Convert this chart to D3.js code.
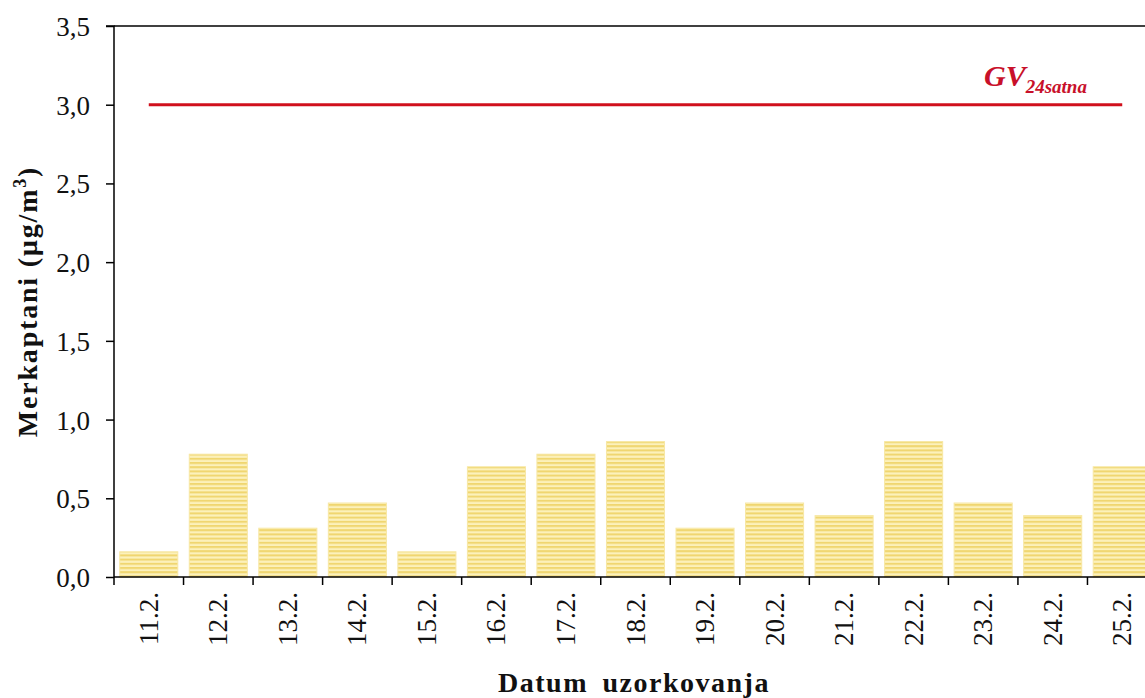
<!DOCTYPE html>
<html>
<head>
<meta charset="utf-8">
<script src="https://cdn.jsdelivr.net/npm/d3@7"></script>
<style>
  html, body { margin: 0; padding: 0; background: #fff; overflow: hidden; }
  svg { display: block; }
  text { font-family: "Liberation Serif", "Times New Roman", serif; }
</style>
</head>
<body>
<svg id="chart" width="1145" height="698"></svg>
<script>
const categories = ["11.2.", "12.2.", "13.2.", "14.2.", "15.2.", "16.2.", "17.2.", "18.2.", "19.2.", "20.2.", "21.2.", "22.2.", "23.2.", "24.2.", "25.2."];
const values = [0.16, 0.78, 0.31, 0.47, 0.16, 0.70, 0.78, 0.86, 0.31, 0.47, 0.39, 0.86, 0.47, 0.39, 0.70];
const yTicks = [0, 0.5, 1.0, 1.5, 2.0, 2.5, 3.0, 3.5];
const limitValue = 3.0;
const yTitle = "Merkaptani (µg/m";
const xTitle = "Datum uzorkovanja";

const svg = d3.select("#chart");
const mLeft = 114, mRight = 1157, mTop = 26, mBottom = 577;

const x = d3.scaleBand().domain(categories).range([mLeft, mRight]).paddingInner(0.165).paddingOuter(0.0825);
const xb = d3.scaleBand().domain(categories).range([mLeft, mRight]);
const y = d3.scaleLinear().domain([0, 3.5]).range([mBottom, mTop]);

// pattern
const defs = svg.append("defs");
const pat = defs.append("pattern").attr("id", "stripes").attr("patternUnits", "userSpaceOnUse")
  .attr("width", 8).attr("height", 4.2);
pat.append("rect").attr("width", 8).attr("height", 4.2).attr("fill", "#fcf1bb");
pat.append("rect").attr("y", 0).attr("width", 8).attr("height", 2).attr("fill", "#f0d670");

// top frame line
svg.append("line").attr("x1", mLeft).attr("x2", mRight).attr("y1", mTop).attr("y2", mTop)
  .attr("stroke", "#000").attr("stroke-width", 1.5);

// bars
svg.selectAll("rect.bar").data(values).enter().append("rect").attr("class", "bar")
  .attr("x", (d, i) => x(categories[i]))
  .attr("width", x.bandwidth())
  .attr("y", d => y(d))
  .attr("height", d => y(0) - y(d))
  .attr("fill", "url(#stripes)")
  .attr("stroke", "#f7e7a4").attr("stroke-width", 1);

// y axis
const yAxis = d3.axisLeft(y).tickValues(yTicks).tickSize(8).tickPadding(16)
  .tickFormat(d => d3.format(".1f")(d).replace(".", ","));
const gy = svg.append("g").attr("transform", `translate(${mLeft},0)`).call(yAxis);
gy.select(".domain").attr("stroke-width", 1.5).attr("d", `M-8,${mTop}H0V${mBottom}`);
gy.selectAll(".tick line").attr("stroke-width", 1.5);
gy.selectAll("text").attr("font-size", 27).attr("font-family", "Liberation Serif, serif").attr("fill", "#111").attr("dy", "0.35em");

// x axis: ticks at band boundaries
const gx = svg.append("g").attr("transform", `translate(0,${mBottom})`);
gx.append("line").attr("x1", mLeft).attr("x2", mRight).attr("stroke", "#000").attr("stroke-width", 1.5);
gx.selectAll("line.tk").data(categories.concat(["_end"])).enter().append("line").attr("class", "tk")
  .attr("x1", (d, i) => i < categories.length ? xb(d) : mRight)
  .attr("x2", (d, i) => i < categories.length ? xb(d) : mRight)
  .attr("y1", 0).attr("y2", 8).attr("stroke", "#000").attr("stroke-width", 1.5);
gx.selectAll("text").data(categories).enter().append("text")
  .attr("transform", d => `translate(${xb(d) + xb.bandwidth() / 2 + 9},15) rotate(-90)`)
  .attr("text-anchor", "end")
  .attr("font-size", 27).attr("fill", "#111")
  .text(d => d);

// limit line
svg.append("line")
  .attr("x1", xb(categories[0]) + xb.bandwidth() / 2)
  .attr("x2", xb(categories[categories.length - 1]) + xb.bandwidth() / 2)
  .attr("y1", y(limitValue)).attr("y2", y(limitValue))
  .attr("stroke", "#d0101c").attr("stroke-width", 3);

const lbl = svg.append("text").attr("x", 984).attr("y", 86)
  .attr("fill", "#c8102a").attr("font-weight", "bold").attr("font-style", "italic");
lbl.append("tspan").attr("font-size", 30).text("GV");
lbl.append("tspan").attr("font-size", 19).attr("dy", 7).text("24satna");

// y title
const yt = svg.append("text")
  .attr("transform", `translate(37,${(mTop + mBottom) / 2 + 0}) rotate(-90)`)
  .attr("text-anchor", "middle").attr("font-weight", "bold").attr("font-size", 28)
  .attr("letter-spacing", 1.8).attr("fill", "#111");
yt.append("tspan").text(yTitle);
yt.append("tspan").attr("font-size", 18).attr("dy", -11).text("3");
yt.append("tspan").attr("dy", 11).text(")");

// x title
svg.append("text").attr("x", 634).attr("y", 692).attr("text-anchor", "middle")
  .attr("font-weight", "bold").attr("font-size", 28).attr("letter-spacing", 1.5)
  .attr("word-spacing", 6).attr("fill", "#111").text(xTitle);
</script>
</body>
</html>
